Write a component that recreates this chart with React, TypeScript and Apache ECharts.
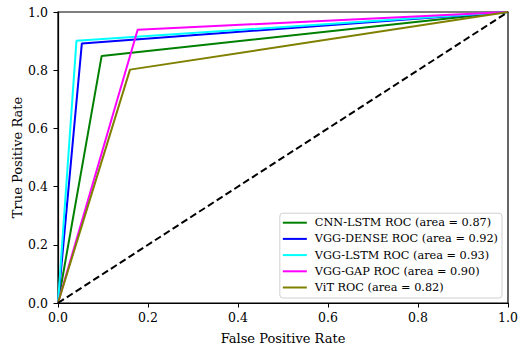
import React, { useEffect, useRef } from "react";
import * as echarts from "echarts";

const seriesNames = [
  "CNN-LSTM ROC (area = 0.87)",
  "VGG-DENSE ROC (area = 0.92)",
  "VGG-LSTM ROC (area = 0.93)",
  "VGG-GAP ROC (area = 0.90)",
  "ViT ROC (area = 0.82)",
];
const seriesColors = ["#008000", "#0000ff", "#00ffff", "#ff00ff", "#808000"];
const fprValues = [
  [0, 0.097, 1],
  [0, 0.053, 1],
  [0, 0.041, 1],
  [0, 0.177, 1],
  [0, 0.16, 1],
];
const tprValues = [
  [0, 0.849, 1],
  [0, 0.892, 1],
  [0, 0.901, 1],
  [0, 0.939, 1],
  [0, 0.802, 1],
];
const diagonal = [
  [0, 0],
  [1, 1],
];

const FONT = "'DejaVu Serif', serif";

export default function App() {
  const ref = useRef<HTMLDivElement>(null);
  useEffect(() => {
    const chart = echarts.init(ref.current!, null, { renderer: "svg" });
    const series: any[] = seriesNames.map((name, i) => ({
      name,
      type: "line",
      data: fprValues[i].map((f, j) => [f, tprValues[i][j]]),
      showSymbol: false,
      symbol: "none",
      lineStyle: { color: seriesColors[i], width: 2 },
      itemStyle: { color: seriesColors[i] },
      z: 2 + i,
    }));
    series.push({
      name: "diag",
      type: "line",
      data: diagonal,
      symbol: "none",
      lineStyle: { color: "#000", width: 2, type: [7, 3.5] },
      z: 10,
    });
    chart.setOption({
      animation: false,
      backgroundColor: "#fff",
      textStyle: { fontFamily: FONT },
      grid: {
        left: 58,
        top: 12,
        width: 450,
        height: 291,
        show: true,
        borderColor: "#000",
        borderWidth: 1.2,
        containLabel: false,
        outerBoundsMode: "none",
      },
      legend: {
        data: seriesNames.map((n) => ({ name: n })),
        orient: "vertical",
        right: 17,
        bottom: 49,
        icon: "rect",
        itemWidth: 24,
        itemHeight: 2,
        itemGap: 3.2,
        padding: [3, 4, 4, 3],
        borderColor: "#d0d0d0",
        borderWidth: 1,
        borderRadius: 3,
        backgroundColor: "rgba(255,255,255,0.8)",
        textStyle: {
          fontFamily: FONT,
          fontSize: 11.3,
          color: "#000",
          lineHeight: 13,
          padding: [0, 0, 0, 3],
        },
      },
      xAxis: {
        type: "value",
        min: 0,
        max: 1,
        interval: 0.2,
        name: "False Positive Rate",
        nameLocation: "middle",
        nameGap: 29,
        nameTextStyle: { fontFamily: FONT, fontSize: 13, color: "#000" },
        axisLine: { show: true, lineStyle: { color: "#000", width: 1.2 } },
        axisTick: { show: true, inside: false, length: 4.5, lineStyle: { color: "#000" } },
        axisLabel: {
          margin: 8,
          fontFamily: FONT,
          fontSize: 12.5,
          color: "#000",
          formatter: (v: number) => v.toFixed(1),
        },
        splitLine: { show: false },
      },
      yAxis: {
        type: "value",
        min: 0,
        max: 1,
        interval: 0.2,
        name: "True Positive Rate",
        nameLocation: "middle",
        nameGap: 34,
        nameMoveOverlap: false,
        nameTextStyle: { fontFamily: FONT, fontSize: 13, color: "#000" },
        axisLine: { show: true, lineStyle: { color: "#000", width: 1.2 } },
        axisTick: { show: true, inside: false, length: 4.5, lineStyle: { color: "#000" } },
        axisLabel: {
          margin: 10,
          fontFamily: FONT,
          fontSize: 12.5,
          color: "#000",
          formatter: (v: number) => v.toFixed(1),
        },
        splitLine: { show: false },
      },
      series,
    });
    return () => chart.dispose();
  }, []);
  return (
    <div
      ref={ref}
      style={{ position: "absolute", left: 0, top: 0, width: 519, height: 347 }}
    />
  );
}
